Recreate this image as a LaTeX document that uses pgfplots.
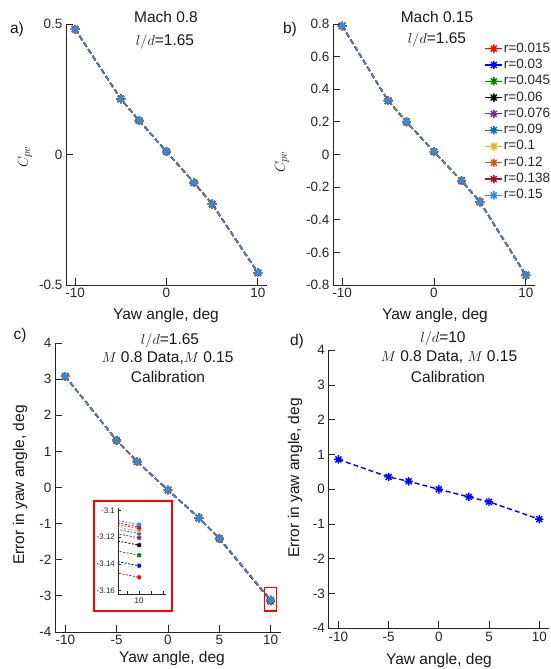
\documentclass[border=0pt]{standalone}
\usepackage{fontspec}
\setmainfont{Liberation Sans}
\usepackage{pgfplots}
\usepackage{pgfplotstable}
\pgfplotsset{compat=1.18}

\definecolor{c1}{rgb}{1,0,0}
\definecolor{c2}{rgb}{0,0,1}
\definecolor{c3}{rgb}{0,0.5,0}
\definecolor{c4}{rgb}{0,0,0}
\definecolor{c5}{rgb}{0.494,0.184,0.556}
\definecolor{c6}{rgb}{0,0.447,0.741}
\definecolor{c7}{rgb}{0.929,0.694,0.125}
\definecolor{c8}{rgb}{0.85,0.325,0.098}
\definecolor{c9}{rgb}{0.635,0.078,0.184}
\definecolor{c10}{rgb}{0.2,0.55,0.85}
\definecolor{axgray}{rgb}{0.15,0.15,0.15}

\pgfdeclareplotmark{ast8}{%
  \pgfpathmoveto{\pgfqpoint{-\pgfplotmarksize}{0pt}}\pgfpathlineto{\pgfqpoint{\pgfplotmarksize}{0pt}}%
  \pgfpathmoveto{\pgfqpoint{0pt}{-\pgfplotmarksize}}\pgfpathlineto{\pgfqpoint{0pt}{\pgfplotmarksize}}%
  \pgfpathmoveto{\pgfqpoint{-.707\pgfplotmarksize}{-.707\pgfplotmarksize}}\pgfpathlineto{\pgfqpoint{.707\pgfplotmarksize}{.707\pgfplotmarksize}}%
  \pgfpathmoveto{\pgfqpoint{-.707\pgfplotmarksize}{.707\pgfplotmarksize}}\pgfpathlineto{\pgfqpoint{.707\pgfplotmarksize}{-.707\pgfplotmarksize}}%
  \pgfusepathqstroke}

\pgfplotstableread{
x a b
-10 0.480 0.788
-5 0.213 0.330
-3 0.130 0.200
0 0.011 0.017
3 -0.108 -0.161
5 -0.190 -0.290
10 -0.453 -0.740
}\dataAB

\pgfplotstableread{
x r1 r2 r3 r4 r5 r6 r7 r8 r9 r10
-10 3.08 3.08 3.08 3.08 3.08 3.08 3.08 3.08 3.08 3.08
-5 1.305 1.305 1.305 1.305 1.305 1.305 1.305 1.305 1.305 1.305
-3 0.715 0.715 0.715 0.715 0.715 0.715 0.715 0.715 0.715 0.715
0 -0.07 -0.07 -0.07 -0.07 -0.07 -0.07 -0.07 -0.07 -0.07 -0.07
3 -0.84 -0.84 -0.84 -0.84 -0.84 -0.84 -0.84 -0.84 -0.84 -0.84
5 -1.415 -1.415 -1.415 -1.415 -1.415 -1.415 -1.415 -1.415 -1.415 -1.415
10 -3.1500 -3.1414 -3.1335 -3.1260 -3.1206 -3.1173 -3.1156 -3.1136 -3.1124 -3.1106
}\dataC

\pgfplotstableread{
x d
-10 0.86
-5 0.355
-3 0.23
0 0.0
3 -0.22
5 -0.36
10 -0.86
}\dataD

\pgfplotsset{
  mainax/.style={
    anchor=south west, scale only axis,
    axis lines*=left, tick align=inside, tick pos=left,
    axis line style={axgray, line width=0.8pt},
    tick style={axgray, line width=0.8pt},
    major tick length=7pt,
    ticklabel style={font=\fontsize{13.5}{15}\selectfont, text=axgray},
    /pgf/number format/assume math mode=true,
    scaled ticks=false,
    clip=false,
  },
  ser/.style={color=#1, dash pattern=on 5pt off 3pt, line width=1.4pt,
    mark=ast8, mark size=4.2pt, mark options={solid, line width=1.4pt}},
  iser/.style={color=#1, dash pattern=on 2pt off 1.5pt, line width=0.8pt,
    mark=ast8, mark size=2.3pt, mark options={solid, line width=0.9pt}},
}

\begin{document}
\begin{tikzpicture}[x=1pt,y=1pt]
\useasboundingbox (0,0) rectangle (550,669);

% ---------- panel a ----------
\begin{axis}[mainax, at={(66pt,384pt)}, width=201pt, height=261pt,
  xmin=-11, xmax=11, ymin=-0.5, ymax=0.5,
  xtick={-10,0,10}, ytick={-0.5,0,0.5}]
\addplot[ser=c1] table[x=x,y=a]{\dataAB};
\addplot[ser=c2] table[x=x,y=a]{\dataAB};
\addplot[ser=c3] table[x=x,y=a]{\dataAB};
\addplot[ser=c4] table[x=x,y=a]{\dataAB};
\addplot[ser=c5] table[x=x,y=a]{\dataAB};
\addplot[ser=c6] table[x=x,y=a]{\dataAB};
\addplot[ser=c7] table[x=x,y=a]{\dataAB};
\addplot[ser=c8] table[x=x,y=a]{\dataAB};
\addplot[ser=c9] table[x=x,y=a]{\dataAB};
\addplot[ser=c10] table[x=x,y=a]{\dataAB};
\end{axis}

% ---------- panel b ----------
\begin{axis}[mainax, at={(333pt,384pt)}, width=202pt, height=261pt,
  xmin=-11, xmax=11, ymin=-0.8, ymax=0.8,
  xtick={-10,0,10}, ytick={-0.8,-0.6,-0.4,-0.2,0,0.2,0.4,0.6,0.8},
  legend cell align=left,
  legend style={at={(axis description cs:0.75,0.935)}, anchor=north west,
    draw=none, fill=none, inner sep=0pt,
    font=\fontsize{13.5}{15}\selectfont, text=axgray,
    nodes={inner sep=1pt, text height=10pt, text depth=3pt}, row sep=1.3pt},
  legend image code/.code={\draw[mark repeat=2,mark phase=2,#1,solid,line width=1.2pt] plot coordinates {(0pt,0pt) (8.5pt,0pt) (17pt,0pt)};}]
\addplot[ser=c1] table[x=x,y=b]{\dataAB}; \addlegendentry{r=0.015}
\addplot[ser=c2] table[x=x,y=b]{\dataAB}; \addlegendentry{r=0.03}
\addplot[ser=c3] table[x=x,y=b]{\dataAB}; \addlegendentry{r=0.045}
\addplot[ser=c4] table[x=x,y=b]{\dataAB}; \addlegendentry{r=0.06}
\addplot[ser=c5] table[x=x,y=b]{\dataAB}; \addlegendentry{r=0.076}
\addplot[ser=c6] table[x=x,y=b]{\dataAB}; \addlegendentry{r=0.09}
\addplot[ser=c7] table[x=x,y=b]{\dataAB}; \addlegendentry{r=0.1}
\addplot[ser=c8] table[x=x,y=b]{\dataAB}; \addlegendentry{r=0.12}
\addplot[ser=c9] table[x=x,y=b]{\dataAB}; \addlegendentry{r=0.138}
\addplot[ser=c10] table[x=x,y=b]{\dataAB}; \addlegendentry{r=0.15}
\end{axis}

% ---------- panel c ----------
\begin{axis}[mainax, at={(55pt,37pt)}, width=226pt, height=289pt,
  xmin=-11, xmax=11, ymin=-4, ymax=4,
  xtick={-10,-5,0,5,10}, ytick={-4,-3,-2,-1,0,1,2,3,4}]
\addplot[ser=c1] table[x=x,y=r1]{\dataC};
\addplot[ser=c2] table[x=x,y=r2]{\dataC};
\addplot[ser=c3] table[x=x,y=r3]{\dataC};
\addplot[ser=c4] table[x=x,y=r4]{\dataC};
\addplot[ser=c5] table[x=x,y=r5]{\dataC};
\addplot[ser=c6] table[x=x,y=r6]{\dataC};
\addplot[ser=c7] table[x=x,y=r7]{\dataC};
\addplot[ser=c8] table[x=x,y=r8]{\dataC};
\addplot[ser=c9] table[x=x,y=r9]{\dataC};
\addplot[ser=c10] table[x=x,y=r10]{\dataC};
\draw[red, line width=1.3pt] (axis cs:9.4,-2.76) rectangle (axis cs:10.57,-3.42);
\end{axis}

% inset frame
\draw[red, line width=1.6pt, fill=white] (94,58) rectangle (171.7,168);
\begin{axis}[anchor=south west, scale only axis, at={(118.3pt,75pt)},
  width=47.7pt, height=86.3pt,
  xmin=9.9914, xmax=10.0112, ymin=-3.1625, ymax=-3.098,
  axis lines*=left, tick align=inside, tick pos=left,
  axis line style={axgray, line width=0.6pt}, tick style={axgray, line width=0.6pt},
  major tick length=3pt,
  ticklabel style={font=\fontsize{8}{9}\selectfont, text=axgray},
  /pgf/number format/assume math mode=true, scaled ticks=false,
  xtick={9.995,10,10.005,10.01}, xticklabels={,10,,},
  ytick={-3.16,-3.14,-3.12,-3.1},
  restrict x to domain=4:11]
\addplot[iser=c1] table[x=x,y=r1]{\dataC};
\addplot[iser=c2] table[x=x,y=r2]{\dataC};
\addplot[iser=c3] table[x=x,y=r3]{\dataC};
\addplot[iser=c4] table[x=x,y=r4]{\dataC};
\addplot[iser=c5] table[x=x,y=r5]{\dataC};
\addplot[iser=c6] table[x=x,y=r6]{\dataC};
\addplot[iser=c7] table[x=x,y=r7]{\dataC};
\addplot[iser=c8] table[x=x,y=r8]{\dataC};
\addplot[iser=c9] table[x=x,y=r9]{\dataC};
\addplot[iser=c10] table[x=x,y=r10]{\dataC};
\end{axis}

% ---------- panel d ----------
\begin{axis}[mainax, at={(328.3pt,40.7pt)}, width=221pt, height=278pt,
  xmin=-11, xmax=11, ymin=-4, ymax=4,
  xtick={-10,-5,0,5,10}, ytick={-4,-3,-2,-1,0,1,2,3,4}]
\addplot[ser=c2] table[x=x,y=d]{\dataD};
\end{axis}

% ---------- texts ----------
\begin{scope}[every node/.style={font=\fontsize{15.5}{17}\selectfont, text=black!90, inner sep=0pt}]
\node at (17,640) {a)};
\node at (166,652) {Mach 0.8};
\node at (165,627) {$l/d$=1.65};
\node[rotate=90] at (25,512) {$C_{pv}$};
\node at (166,354) {Yaw angle, deg};

\node at (290,640) {b)};
\node at (437,652) {Mach 0.15};
\node at (437,629) {$l/d$=1.65};
\node[rotate=90] at (282,507) {$C_{pv}$};
\node at (435,354) {Yaw angle, deg};

\node at (20,334) {c)};
\node at (170,328) {$l/d$=1.65};
\node at (167.5,311) {$M$ 0.8 Data,$M$ 0.15};
\node at (168,292) {Calibration};
\node[rotate=90] at (20,184) {Error in yaw angle, deg};
\node at (172,11) {Yaw angle, deg};

\node at (297,328) {d)};
\node at (443,330) {$l/d$=10};
\node at (449,312) {$M$ 0.8 Data, $M$ 0.15};
\node at (448,292) {Calibration};
\node[rotate=90] at (295,191) {Error in yaw angle, deg};
\node at (439,9) {Yaw angle, deg};
\end{scope}
\end{tikzpicture}
\end{document}
